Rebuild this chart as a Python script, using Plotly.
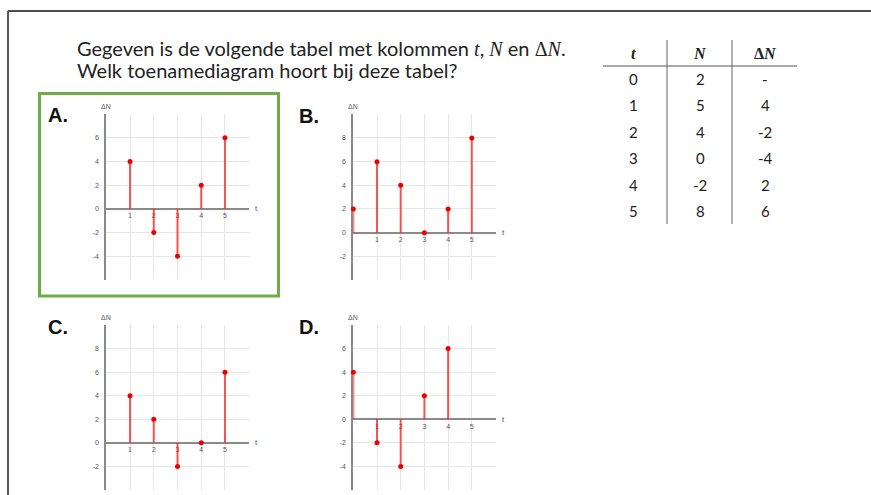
import plotly.graph_objects as go

# ---- data -------------------------------------------------------------
table_t = ["0", "1", "2", "3", "4", "5"]
table_N = ["2", "5", "4", "0", "-2", "8"]
table_dN = ["-", "4", "-2", "-4", "2", "6"]

a_t = [1, 2, 3, 4, 5]
a_dN = [4, -2, -4, 2, 6]
b_t = [0, 1, 2, 3, 4, 5]
b_dN = [2, 6, 4, 0, 2, 8]
c_t = [1, 2, 3, 4, 5]
c_dN = [4, 2, -2, 0, 6]
d_t = [0, 1, 2, 3, 4]
d_dN = [4, -2, -4, 2, 6]

x_tick_vals = [1, 2, 3, 4, 5, 6]
x_tick_text = ["1", "2", "3", "4", "5", ""]

# ---- page geometry (pixels) -------------------------------------------
W, H = 871, 495


def fx(px):
    return px / W


def fy(py):
    return 1 - py / H


panels = [
    dict(name="A.", t=a_t, v=a_dN, yr=(-6, 8), box=(106.3, 114, 248.7, 280), lab=(46, 115)),
    dict(name="B.", t=b_t, v=b_dN, yr=(-4, 10), box=(353.3, 114.3, 495.5, 280), lab=(297, 116)),
    dict(name="C.", t=c_t, v=c_dN, yr=(-4, 10), box=(106.3, 325, 248.7, 490), lab=(46, 327)),
    dict(name="D.", t=d_t, v=d_dN, yr=(-6, 8), box=(353.3, 325, 495.5, 490), lab=(297, 327)),
]

STEM = "rgba(255,20,20,0.72)"
DOT = "#ee0000"
AXIS = "#8a8a8a"
GRID = "#e6e6e6"
TICKFONT = dict(family="Liberation Sans", size=7, color="#555555")

fig = go.Figure()
annotations = []
shapes = []

for i, p in enumerate(panels, start=1):
    xa = "x" if i == 1 else f"x{i}"
    ya = "y" if i == 1 else f"y{i}"
    x0, y0, x1, y1 = p["box"]
    ymin, ymax = p["yr"]

    # stems from the axis to each value
    sx, sy = [], []
    for t, v in zip(p["t"], p["v"]):
        sx += [t, t, None]
        sy += [0, v, None]
    fig.add_trace(go.Scatter(x=sx, y=sy, mode="lines", xaxis=xa, yaxis=ya,
                             line=dict(color=STEM, width=2), hoverinfo="skip",
                             showlegend=False))
    fig.add_trace(go.Scatter(x=p["t"], y=p["v"], mode="markers", xaxis=xa, yaxis=ya,
                             marker=dict(color=DOT, size=5), cliponaxis=False,
                             showlegend=False))

    y_vals = list(range(ymin, ymax + 1, 2))
    y_text = [str(v) if ymin < v < ymax else "" for v in y_vals]
    zero_frac = fy(y1) + (0 - ymin) / (ymax - ymin) * (fy(y0) - fy(y1))

    xkey = "xaxis" if i == 1 else f"xaxis{i}"
    ykey = "yaxis" if i == 1 else f"yaxis{i}"
    fig.layout[xkey] = dict(
        domain=[fx(x0), fx(x1)], range=[0, 6], anchor="free", position=zero_frac,
        tickvals=x_tick_vals, ticktext=x_tick_text, showgrid=True, gridcolor=GRID,
        gridwidth=1, zeroline=False, showline=True, linecolor=AXIS, linewidth=2,
        ticks="", tickfont=TICKFONT, ticklabelstandoff=0, fixedrange=True,
        layer="below traces",
    )
    fig.layout[ykey] = dict(
        domain=[fy(y1), fy(y0)], range=[ymin, ymax], anchor=xa,
        tickvals=y_vals, ticktext=y_text, showgrid=True, gridcolor=GRID,
        gridwidth=1, zeroline=False, showline=True, linecolor=AXIS, linewidth=2,
        ticks="", tickfont=TICKFONT, ticklabelstandoff=4, fixedrange=True,
        layer="below traces",
    )

    # axis titles
    annotations.append(dict(x=0, y=ymax, xref=xa, yref=ya, text="ΔN", showarrow=False,
                            xanchor="center", yanchor="bottom", yshift=2,
                            font=dict(family="Liberation Sans", size=7, color="#555555")))
    annotations.append(dict(x=6, y=0, xref=xa, yref=ya, text="t", showarrow=False,
                            xanchor="left", yanchor="middle", xshift=4,
                            font=dict(family="Liberation Sans", size=8, color="#555555")))
    # option letter
    lx, ly = p["lab"]
    annotations.append(dict(x=fx(lx), y=fy(ly), xref="paper", yref="paper",
                            text=f"<b>{p['name']}</b>", showarrow=False,
                            xanchor="left", yanchor="middle",
                            font=dict(family="Liberation Sans", size=20, color="#111111")))

# ---- question text -----------------------------------------------------
SERIF = "font-family:Liberation Serif"
line1 = ("Gegeven is de volgende tabel met kolommen "
         f"<span style='{SERIF}'><i>t</i></span>, "
         f"<span style='{SERIF}'><i>N</i></span> en "
         f"<span style='{SERIF}'>Δ<i>N</i></span>.")
line2 = "Welk toenamediagram hoort bij deze tabel?"
TITLEFONT = dict(family="Lato", size=20, color="#222222")
annotations.append(dict(x=fx(75), y=fy(48.5), xref="paper", yref="paper", text=line1,
                        showarrow=False, xanchor="left", yanchor="middle", font=TITLEFONT))
annotations.append(dict(x=fx(75), y=fy(70), xref="paper", yref="paper", text=line2,
                        showarrow=False, xanchor="left", yanchor="middle", font=TITLEFONT))

# ---- value table -------------------------------------------------------
col_x = [633, 700, 765]
header_y = 53
row_y = [79, 105, 132, 158, 185, 211]
headers = ["<b><i>t</i></b>", "<b><i>N</i></b>", "<b>Δ<i>N</i></b>"]
for cx, htxt in zip(col_x, headers):
    annotations.append(dict(x=fx(cx), y=fy(header_y), xref="paper", yref="paper",
                            text=htxt, showarrow=False, xanchor="center", yanchor="middle",
                            font=dict(family="Liberation Serif", size=16, color="#222222")))
for col, cx in zip([table_t, table_N, table_dN], col_x):
    for val, ry in zip(col, row_y):
        annotations.append(dict(x=fx(cx), y=fy(ry), xref="paper", yref="paper",
                                text=val, showarrow=False, xanchor="center",
                                yanchor="middle",
                                font=dict(family="Lato", size=15, color="#222222")))

shapes.append(dict(type="line", xref="paper", yref="paper", x0=fx(603), x1=fx(797),
                   y0=fy(66), y1=fy(66), line=dict(color="#8c8c8c", width=1.5)))
for vx in (667, 732):
    shapes.append(dict(type="line", xref="paper", yref="paper", x0=fx(vx), x1=fx(vx),
                       y0=fy(40), y1=fy(224), line=dict(color="#666666", width=1)))

# ---- slide frame and highlight box --------------------------------------
shapes.append(dict(type="line", xref="paper", yref="paper", x0=fx(8), x1=1,
                   y0=fy(11), y1=fy(11), line=dict(color="#111111", width=1.5)))
shapes.append(dict(type="line", xref="paper", yref="paper", x0=fx(8), x1=fx(8),
                   y0=fy(11), y1=0, line=dict(color="#555555", width=2)))
shapes.append(dict(type="rect", xref="paper", yref="paper", x0=fx(39.5), x1=fx(278.5),
                   y0=fy(296), y1=fy(93.5), line=dict(color="#70AD47", width=3)))

fig.update_layout(
    width=W, height=H, margin=dict(l=0, r=0, t=0, b=0),
    paper_bgcolor="white", plot_bgcolor="white",
    annotations=annotations, shapes=shapes, showlegend=False,
)

fig.write_html("out.html", config={"displayModeBar": False})
